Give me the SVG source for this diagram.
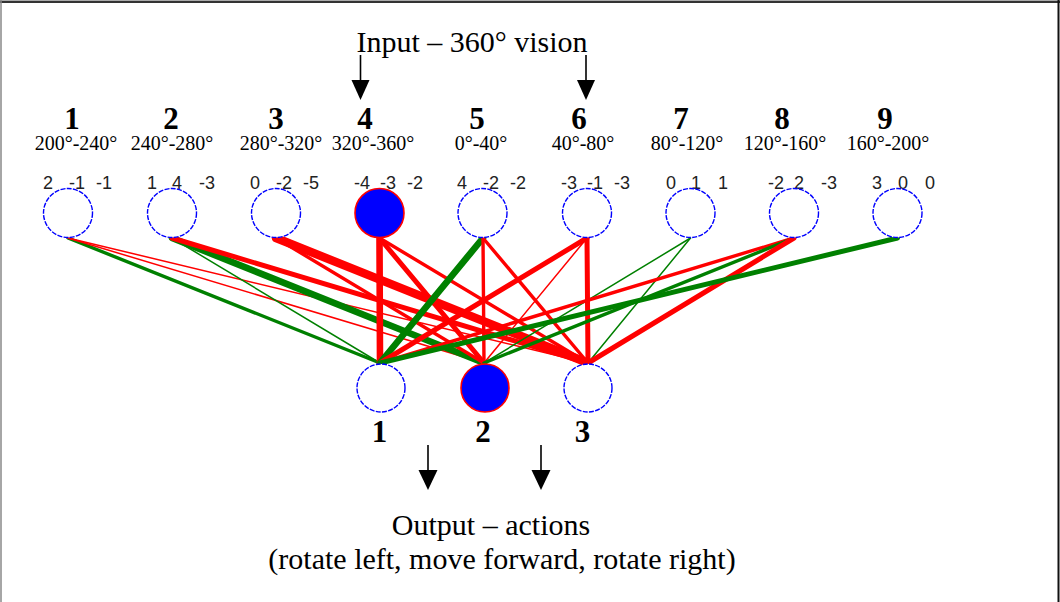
<svg xmlns="http://www.w3.org/2000/svg" width="1060" height="602" viewBox="0 0 1060 602">
<defs>
<style>
.title{font-family:"Liberation Serif","Times New Roman",serif;font-size:30px;fill:#000;text-anchor:middle}
.num{font-family:"Liberation Serif","Times New Roman",serif;font-size:31px;font-weight:bold;fill:#000;text-anchor:middle}
.deg{font-family:"Liberation Serif","Times New Roman",serif;font-size:20px;fill:#000;text-anchor:middle}
.w{font-family:"Liberation Sans",Arial,sans-serif;font-size:18px;fill:#222}
.node{fill:#fff;stroke:#0000ff;stroke-width:1.4;stroke-dasharray:5 1.3}
.on{fill:#0000ff;stroke:#ff0000;stroke-width:1.6}
.pos{stroke:#008000;stroke-linecap:round}
.neg{stroke:#ff0000;stroke-linecap:round}
.arrow{stroke:#000;stroke-width:1.6}
</style>
</defs>
<rect width="1060" height="602" fill="#fff"/>
<g id="frame">
<line x1="0" y1="0.5" x2="1060" y2="0.5" stroke="#aaa" stroke-width="1"/>
<line x1="0" y1="2" x2="1060" y2="2" stroke="#333" stroke-width="2"/>
<line x1="1" y1="0" x2="1" y2="602" stroke="#888" stroke-width="1.5"/>
<line x1="1058.5" y1="0" x2="1058.5" y2="602" stroke="#111" stroke-width="2"/>
</g>
<g id="input-title">
<text class="title" x="472" y="52">Input – 360° vision</text>
<line class="arrow" x1="360.5" y1="55" x2="360.5" y2="82"/>
<polygon points="351.5,80 369.5,80 360.5,100" fill="#000"/>
<line class="arrow" x1="586" y1="55" x2="586" y2="82"/>
<polygon points="577,80 595,80 586,100" fill="#000"/>
</g>
<g id="connectors">
<line class="pos" x1="68" y1="238" x2="380" y2="363" stroke-width="3.4"/>
<line class="neg" x1="68" y1="238" x2="484" y2="363" stroke-width="1.5"/>
<line class="neg" x1="68" y1="238" x2="588" y2="363" stroke-width="1.5"/>
<line class="pos" x1="172" y1="238" x2="380" y2="363" stroke-width="1.5"/>
<line class="pos" x1="172" y1="238" x2="484" y2="363" stroke-width="6.6"/>
<line class="neg" x1="172" y1="238" x2="588" y2="363" stroke-width="5"/>
<line class="neg" x1="276" y1="238" x2="484" y2="363" stroke-width="3.4"/>
<line class="neg" x1="276" y1="238" x2="588" y2="363" stroke-width="8.5"/>
<line class="neg" x1="379.5" y1="238" x2="380" y2="363" stroke-width="6.6"/>
<line class="neg" x1="379.5" y1="238" x2="484" y2="363" stroke-width="5"/>
<line class="neg" x1="379.5" y1="238" x2="588" y2="363" stroke-width="3.4"/>
<line class="pos" x1="483" y1="238" x2="380" y2="363" stroke-width="6.6"/>
<line class="neg" x1="483" y1="238" x2="484" y2="363" stroke-width="3.4"/>
<line class="neg" x1="483" y1="238" x2="588" y2="363" stroke-width="3.4"/>
<line class="neg" x1="587" y1="238" x2="380" y2="363" stroke-width="5"/>
<line class="neg" x1="587" y1="238" x2="484" y2="363" stroke-width="1.5"/>
<line class="neg" x1="587" y1="238" x2="588" y2="363" stroke-width="5"/>
<line class="pos" x1="690.5" y1="238" x2="484" y2="363" stroke-width="1.5"/>
<line class="pos" x1="690.5" y1="238" x2="588" y2="363" stroke-width="1.5"/>
<line class="neg" x1="794" y1="238" x2="380" y2="363" stroke-width="3.4"/>
<line class="pos" x1="794" y1="238" x2="484" y2="363" stroke-width="3.4"/>
<line class="neg" x1="794" y1="238" x2="588" y2="363" stroke-width="5"/>
<line class="pos" x1="897.5" y1="238" x2="380" y2="363" stroke-width="5"/>
</g>
<g id="in1"><text class="num" x="72" y="129">1</text><text class="deg" x="76" y="150">200°-240°</text><text class="w" y="189"><tspan x="43">2</tspan><tspan x="69">-1</tspan><tspan x="96">-1</tspan></text><circle class="node" cx="68" cy="213" r="24.5"/></g>
<g id="in2"><text class="num" x="171" y="129">2</text><text class="deg" x="172" y="150">240°-280°</text><text class="w" y="189"><tspan x="147">1</tspan><tspan x="172">4</tspan><tspan x="199">-3</tspan></text><circle class="node" cx="172" cy="213" r="24.5"/></g>
<g id="in3"><text class="num" x="276" y="129">3</text><text class="deg" x="281" y="150">280°-320°</text><text class="w" y="189"><tspan x="250">0</tspan><tspan x="276">-2</tspan><tspan x="303">-5</tspan></text><circle class="node" cx="276" cy="213" r="24.5"/></g>
<g id="in4"><text class="num" x="365" y="129">4</text><text class="deg" x="373" y="150">320°-360°</text><text class="w" y="189"><tspan x="354">-4</tspan><tspan x="380">-3</tspan><tspan x="407">-2</tspan></text><circle class="on" cx="379.5" cy="213" r="24.5"/></g>
<g id="in5"><text class="num" x="477" y="129">5</text><text class="deg" x="481" y="150">0°-40°</text><text class="w" y="189"><tspan x="457">4</tspan><tspan x="483">-2</tspan><tspan x="510">-2</tspan></text><circle class="node" cx="482.5" cy="213" r="24.5"/></g>
<g id="in6"><text class="num" x="579" y="129">6</text><text class="deg" x="583" y="150">40°-80°</text><text class="w" y="189"><tspan x="561">-3</tspan><tspan x="587">-1</tspan><tspan x="614">-3</tspan></text><circle class="node" cx="587" cy="213" r="24.5"/></g>
<g id="in7"><text class="num" x="681" y="129">7</text><text class="deg" x="687" y="150">80°-120°</text><text class="w" y="189"><tspan x="666">0</tspan><tspan x="691">1</tspan><tspan x="718">1</tspan></text><circle class="node" cx="690.5" cy="213" r="24.5"/></g>
<g id="in8"><text class="num" x="782" y="129">8</text><text class="deg" x="785" y="150">120°-160°</text><text class="w" y="189"><tspan x="768">-2</tspan><tspan x="794">2</tspan><tspan x="821">-3</tspan></text><circle class="node" cx="794" cy="213" r="24.5"/></g>
<g id="in9"><text class="num" x="885" y="129">9</text><text class="deg" x="888" y="150">160°-200°</text><text class="w" y="189"><tspan x="872">3</tspan><tspan x="898">0</tspan><tspan x="925">0</tspan></text><circle class="node" cx="897.5" cy="213" r="24.5"/></g>
<g id="out1"><circle class="node" cx="381" cy="388" r="24"/><text class="num" x="379.5" y="442">1</text></g>
<g id="out2"><circle class="on" cx="485" cy="388" r="24"/><text class="num" x="483" y="442">2</text></g>
<g id="out3"><circle class="node" cx="588" cy="388" r="24"/><text class="num" x="582.5" y="442">3</text></g>
<g id="output-title">
<line class="arrow" x1="428" y1="445" x2="428" y2="472"/>
<polygon points="418.5,470 437.5,470 428,490" fill="#000"/>
<line class="arrow" x1="541" y1="445" x2="541" y2="472"/>
<polygon points="531.5,470 550.5,470 541,490" fill="#000"/>
<text class="title" x="491" y="535">Output – actions</text>
<text class="title" x="502" y="569">(rotate left, move forward, rotate right)</text>
</g>
</svg>
